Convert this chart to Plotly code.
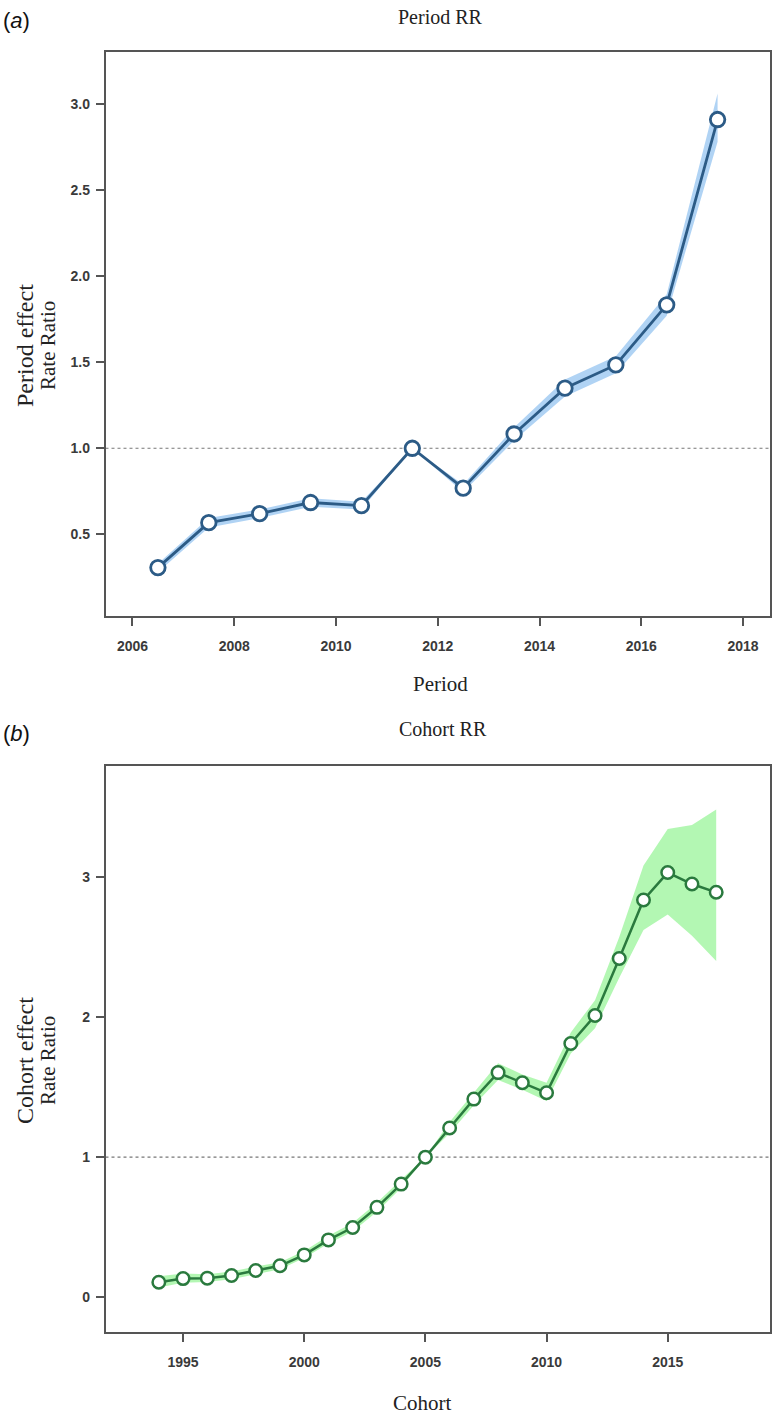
import plotly.graph_objects as go

# ---- data ----
period_years = [2006.5, 2007.5, 2008.5, 2009.5, 2010.5, 2011.5, 2012.5, 2013.5, 2014.5, 2015.5, 2016.5, 2017.5]
period_rr = [0.307, 0.568, 0.620, 0.685, 0.667, 1.000, 0.768, 1.083, 1.349, 1.484, 1.833, 2.909]
period_lo = [0.28, 0.54, 0.595, 0.66, 0.645, 1.0, 0.745, 1.045, 1.30, 1.435, 1.77, 2.78]
period_hi = [0.33, 0.595, 0.645, 0.71, 0.69, 1.0, 0.79, 1.12, 1.40, 1.535, 1.895, 3.06]

cohort_years = list(range(1994, 2018))
cohort_rr = [0.108, 0.134, 0.137, 0.156, 0.192, 0.225, 0.303, 0.41, 0.498, 0.642, 0.808, 1.0,
             1.208, 1.414, 1.603, 1.531, 1.459, 1.811, 2.01, 2.417, 2.834, 3.03, 2.948, 2.889]
cohort_lo = [0.07, 0.105, 0.11, 0.13, 0.165, 0.20, 0.28, 0.385, 0.47, 0.61, 0.78, 1.0,
             1.17, 1.37, 1.55, 1.48, 1.40, 1.74, 1.92, 2.28, 2.62, 2.73, 2.58, 2.40]
cohort_hi = [0.15, 0.17, 0.165, 0.185, 0.22, 0.25, 0.33, 0.44, 0.53, 0.675, 0.84, 1.0,
             1.25, 1.46, 1.67, 1.59, 1.53, 1.89, 2.12, 2.57, 3.08, 3.34, 3.37, 3.48]

period_xticks = [2006, 2008, 2010, 2012, 2014, 2016, 2018]
period_yticks = [0.5, 1.0, 1.5, 2.0, 2.5, 3.0]
cohort_xticks = [1995, 2000, 2005, 2010, 2015]
cohort_yticks = [0, 1, 2, 3]

W, H = 780, 1415
def px(x): return x / W
def py(y): return 1 - y / H

BLUE = "#2c5b86"
BLUE_BAND = "rgba(150,196,240,0.75)"
GREEN = "#2a7a3e"
GREEN_BAND = "rgba(160,245,160,0.8)"
FRAME = "#555555"
SERIF = "Liberation Serif"
SANS = "Liberation Sans"

fig = go.Figure()

def add_panel(xs, rr, lo, hi, line_c, band_c, xa, ya, msize, lw):
    fig.add_trace(go.Scatter(x=xs + xs[::-1], y=hi + lo[::-1], fill="toself",
                             fillcolor=band_c, line=dict(width=0), mode="lines",
                             hoverinfo="skip", showlegend=False, xaxis=xa, yaxis=ya))
    fig.add_trace(go.Scatter(x=xs, y=rr, mode="lines+markers",
                             line=dict(color=line_c, width=lw),
                             marker=dict(size=msize, color="white",
                                         line=dict(color=line_c, width=lw)),
                             showlegend=False, xaxis=xa, yaxis=ya))

add_panel(period_years, period_rr, period_lo, period_hi, BLUE, BLUE_BAND, "x", "y", 14.5, 2.8)
add_panel(cohort_years, cohort_rr, cohort_lo, cohort_hi, GREEN, GREEN_BAND, "x2", "y2", 12.5, 2.5)

tickfont = dict(family=SANS, size=14, color="#3a3a3a", weight="bold")
common = dict(showline=True, mirror=True, linecolor=FRAME, linewidth=1.5,
              ticks="outside", ticklen=8, tickwidth=1.5, tickcolor=FRAME,
              showgrid=False, zeroline=False, tickfont=tickfont)

fig.update_layout(
    width=W, height=H, margin=dict(l=0, r=0, t=0, b=0),
    paper_bgcolor="white", plot_bgcolor="white",
    xaxis=dict(domain=[px(105.5), px(770)], range=[2005.47, 2018.53],
               tickvals=period_xticks, ticklabelstandoff=8, anchor="y", **common),
    yaxis=dict(domain=[py(616), py(51.5)], range=[0.026, 3.304],
               tickvals=period_yticks, tickformat=".1f", ticklabelstandoff=3, anchor="x", **common),
    xaxis2=dict(domain=[px(105.5), px(770)], range=[1991.8, 2019.22],
                tickvals=cohort_xticks, ticklabelstandoff=8, anchor="y2", **common),
    yaxis2=dict(domain=[py(1332), py(766)], range=[-0.247, 3.79],
                tickvals=cohort_yticks, ticklabelstandoff=3, anchor="x2", **common),
)

# reference lines at RR = 1
for xr, yr in (("x domain", "y"), ("x2 domain", "y2")):
    fig.add_shape(type="line", xref=xr, yref=yr, x0=0, x1=1, y0=1, y1=1,
                  line=dict(color="#777777", width=1.2, dash="dot"), layer="below")

def ann(text, x, y, size, family=SERIF, angle=0, color="#222222"):
    fig.add_annotation(text=text, x=px(x), y=py(y), xref="paper", yref="paper",
                       showarrow=False, textangle=angle, xanchor="center", yanchor="middle",
                       font=dict(family=family, size=size, color=color))

# panel (a)
ann("(<i>a</i>)", 16, 21, 22, family=SANS, color="#111111")
ann("Period RR", 440, 17, 20)
ann("Period effect", 25, 346, 24, angle=-90)
ann("Rate Ratio", 48, 346, 21, angle=-90)
ann("Period", 440, 684, 21)

# panel (b)
ann("(<i>b</i>)", 16, 734, 22, family=SANS, color="#111111")
ann("Cohort RR", 443, 729, 20)
ann("Cohort effect", 25, 1061, 24, angle=-90)
ann("Rate Ratio", 48, 1061, 21, angle=-90)
ann("Cohort", 422, 1403, 21)

fig.write_html("out.html", config={"displayModeBar": False},
               post_script="document.body.style.margin='0';document.body.style.overflow='hidden';")
